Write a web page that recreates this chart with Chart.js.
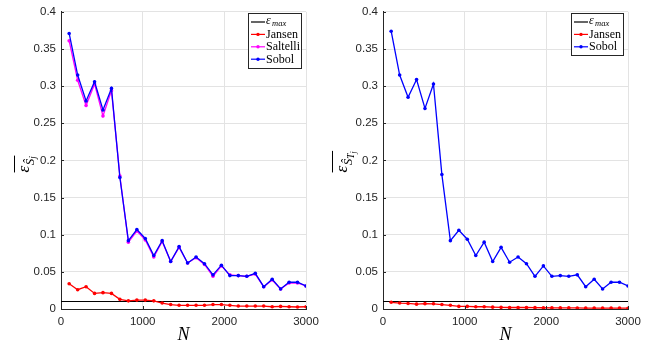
<!DOCTYPE html>
<html>
<head>
<meta charset="utf-8">
<script src="https://cdn.jsdelivr.net/npm/chart.js@4/dist/chart.umd.min.js"></script>
<style>
body{margin:0;background:#fff;width:659px;height:349px;overflow:hidden;position:relative}
canvas{position:absolute;top:0}
</style>
</head>
<body>
<canvas id="left" width="330" height="349" style="left:0"></canvas>
<canvas id="right" width="329" height="349" style="left:330px"></canvas>
<script>
// sample sizes
let N=[100,204,307,411,514,618,721,825,929,1032,1136,1239,1343,1446,1550,1654,1757,1861,1964,2068,2171,2275,2379,2482,2586,2689,2793,2896,3000]

let epsMax=0.01

// first order indices
let jansenS=[0.034,0.026,0.030,0.021,0.022,0.021,0.013,0.011,0.012,0.012,0.011,0.008,0.006,0.005,0.005,0.005,0.005,0.006,0.006,0.005,0.004,0.004,0.004,0.004,0.003,0.0035,0.003,0.0027,0.003]
let saltelliS=[0.361,0.308,0.274,0.303,0.260,0.294,0.179,0.090,0.105,0.093,0.070,0.091,0.064,0.083,0.062,0.069,0.060,0.044,0.058,0.046,0.045,0.044,0.047,0.030,0.039,0.027,0.035,0.035,0.031]
let sobolS=[0.371,0.315,0.280,0.306,0.268,0.297,0.177,0.092,0.107,0.095,0.072,0.092,0.064,0.084,0.062,0.070,0.061,0.046,0.059,0.045,0.045,0.044,0.048,0.030,0.040,0.027,0.036,0.036,0.031]

// total indices
let jansenT=[0.009,0.008,0.0075,0.0065,0.0072,0.007,0.006,0.005,0.0035,0.0035,0.003,0.003,0.0025,0.0022,0.002,0.002,0.002,0.0018,0.0017,0.0016,0.0015,0.0015,0.0014,0.0013,0.0013,0.0012,0.0012,0.0012,0.0011]
let sobolT=[0.374,0.315,0.285,0.309,0.270,0.303,0.181,0.092,0.106,0.094,0.072,0.090,0.064,0.083,0.063,0.070,0.061,0.044,0.058,0.044,0.045,0.044,0.046,0.030,0.040,0.027,0.036,0.036,0.031]

let xTicks=[0,1000,2000,3000]

const AX="#262626"
const SERIF="'Liberation Serif', serif"

function pts(arr){
return arr.map((v,i)=>({x:N[i],y:v}))
}

function series(label,arr,color,order){
return {label:label,data:pts(arr),borderColor:color,backgroundColor:color,borderWidth:1.3,
pointRadius:1.8,pointHoverRadius:1.8,pointBorderWidth:0,order:order,tension:0}
}

function epsLine(){
return {label:"eps",data:[{x:0,y:epsMax},{x:3000,y:epsMax}],borderColor:"#000",borderWidth:1.1,pointRadius:0,order:9}
}

// axis decorations, legend and y label
let deco={
id:"deco",
afterDraw(chart,args,opts){
let c=chart.ctx,a=chart.chartArea
c.save()
// inward ticks
c.strokeStyle=AX
c.lineWidth=1
c.beginPath()
for(let t of chart.scales.y.ticks){
let y=Math.round(chart.scales.y.getPixelForValue(t.value))+0.5
c.moveTo(a.left,y);c.lineTo(a.left+3,y)
}
for(let t of chart.scales.x.ticks){
let x=Math.round(chart.scales.x.getPixelForValue(t.value))+0.5
c.moveTo(x,a.bottom);c.lineTo(x,a.bottom-3)
}
c.stroke()

// legend
let L=opts.legend
c.fillStyle="#fff"
c.fillRect(L.x,L.y,L.w,L.h)
c.strokeStyle=AX
c.lineWidth=1
c.strokeRect(L.x+0.5,L.y+0.5,L.w,L.h)
L.items.forEach((it,i)=>{
let y=L.y+9+i*12.4
c.strokeStyle=it.color
c.lineWidth=1.2
c.beginPath();c.moveTo(L.x+3,y);c.lineTo(L.x+17,y);c.stroke()
if(it.marker){
c.fillStyle=it.color
c.beginPath();c.arc(L.x+10,y,1.7,0,Math.PI*2);c.fill()
}
c.fillStyle="#000"
c.textBaseline="middle"
c.textAlign="left"
if(it.eps){
c.font="italic 12px "+SERIF
c.fillText("\u03b5",L.x+18,y-1)
c.font="italic 8.5px "+SERIF
c.fillText("max",L.x+24,y+2)
}else{
c.font="12px "+SERIF
c.fillText(it.label,L.x+18,y+0.5)
}
})

// y label
let yl=opts.ylabel
c.translate(yl.x,(a.top+a.bottom)/2)
c.rotate(-Math.PI/2)
c.fillStyle="#000"
c.textBaseline="alphabetic"
c.textAlign="left"
c.font="italic 17px "+SERIF
let x0=-12
c.fillText("\u03b5",x0,5)
let x=x0+c.measureText("\u03b5").width+0.5
c.font="italic 13px "+SERIF
c.fillText("\u015c",x,10)
x+=c.measureText("\u015c").width
if(yl.total){
c.font="italic 9.5px "+SERIF
c.fillText("T",x,12)
x+=c.measureText("T").width
c.font="italic 7.5px "+SERIF
c.fillText("j",x,14)
x+=c.measureText("j").width
}else{
c.font="italic 9.5px "+SERIF
c.fillText("j",x,12)
x+=c.measureText("j").width
}
c.strokeStyle="#000"
c.lineWidth=1
c.beginPath();c.moveTo(x0,-9.5);c.lineTo(x+0.5,-9.5);c.stroke()
c.restore()
}
}

function makeChart(id,datasets,yWidth,padRight,legend,ylabel){
return new Chart(document.getElementById(id),{
type:"line",
data:{datasets:datasets},
plugins:[deco],
options:{
responsive:false,
animation:false,
layout:{padding:{top:11,right:padRight,left:0,bottom:0}},
plugins:{legend:{display:false},tooltip:{enabled:false},deco:{legend:legend,ylabel:ylabel}},
scales:{
x:{type:"linear",min:0,max:3000,
afterBuildTicks(s){s.ticks=xTicks.map(v=>({value:v}))},
afterFit(s){s.height=40},
grid:{color:"#e3e3e3",drawTicks:false},
border:{color:AX,width:1},
ticks:{color:AX,font:{family:"'Liberation Sans', Arial",size:11.5},padding:6,maxRotation:0,
callback:v=>String(v)},
title:{display:true,text:"N",color:"#000",font:{family:SERIF,size:18,style:"italic"},padding:{top:0,bottom:3}}
},
y:{min:0,max:0.4,
afterFit(s){s.width=yWidth},
grid:{color:"#e3e3e3",drawTicks:false},
border:{color:AX,width:1},
ticks:{stepSize:0.05,color:AX,font:{family:"'Liberation Sans', Arial",size:11.5},padding:5,
callback:v=>String(Math.round(v*100)/100)}
}
}
}
})
}

makeChart("left",[
epsLine(),
series("Jansen",jansenS,"#ff0000",3),
series("Saltelli",saltelliS,"#ff00ff",2),
series("Sobol",sobolS,"#0000ff",1)
],61,24,
{x:248,y:13,w:53,h:55,items:[
{eps:true,color:"#000"},
{label:"Jansen",color:"#ff0000",marker:true},
{label:"Saltelli",color:"#ff00ff",marker:true},
{label:"Sobol",color:"#0000ff",marker:true}
]},
{x:24,total:false})

makeChart("right",[
epsLine(),
series("Jansen",jansenT,"#ff0000",3),
series("Sobol",sobolT,"#0000ff",1)
],53,31,
{x:241,y:13,w:52,h:42,items:[
{eps:true,color:"#000"},
{label:"Jansen",color:"#ff0000",marker:true},
{label:"Sobol",color:"#0000ff",marker:true}
]},
{x:12,total:true})
</script>
</body>
</html>
